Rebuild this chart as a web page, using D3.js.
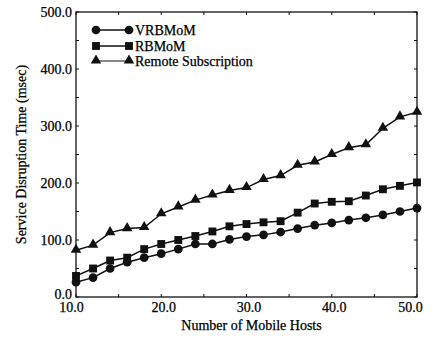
<!DOCTYPE html>
<html>
<head>
<meta charset="utf-8">
<script src="https://cdn.jsdelivr.net/npm/d3@7"></script>
<style>
  html, body { margin: 0; padding: 0; background: #fff; }
  svg { display: block; }
  svg text { font-family: "Times New Roman", "Liberation Serif", Tinos, "DejaVu Serif", serif !important; fill: #000; stroke: #000; stroke-width: 0.25px; }
</style>
</head>
<body>
<svg id="chart" width="435" height="341"></svg>
<script>
const hosts = [10, 12, 14, 16, 18, 20, 22, 24, 26, 28, 30, 32, 34, 36, 38, 40, 42, 44, 46, 48, 50];
const vrbmom = [26, 34, 50, 61, 69, 76, 84, 93, 93, 101, 106, 109, 114, 120, 126, 130, 135, 139, 144, 150, 156];
const rbmom = [37, 50, 64, 69, 84, 93, 100, 107, 115, 124, 128, 131, 133, 148, 164, 167, 168, 178, 189, 195, 201];
const remote = [82, 91, 113, 120, 122, 146, 158, 170, 179, 187, 192, 206, 213, 231, 237, 250, 262, 267, 296, 316, 324];
const seriesNames = ["VRBMoM", "RBMoM", "Remote Subscription"];
const seriesMarkers = ["circle", "square", "triangle"];
const xTicks = [10, 20, 30, 40, 50];
const yTicks = [0, 100, 200, 300, 400, 500];
const xLabel = "Number of Mobile Hosts";
const yLabel = "Service Disruption Time (msec)";

const svg = d3.select("#chart");
const m = { left: 76, right: 18, top: 12, bottom: 44 };
const W = 435, H = 341;
const x = d3.scaleLinear().domain([10, 50]).range([m.left, W - m.right]);
const y = d3.scaleLinear().domain([0, 500]).range([H - m.bottom, m.top]);

const ink = "#111";
const FONT = '"Times New Roman", "Liberation Serif", serif';

// frame
svg.append("rect")
  .attr("x", x(10)).attr("y", y(500))
  .attr("width", x(50) - x(10)).attr("height", y(0) - y(500))
  .attr("fill", "none").attr("stroke", ink).attr("stroke-width", 1.3);

// inner minor ticks on all sides
const xMinor = d3.range(10, 50.01, 5);
const yMinor = d3.range(0, 500.01, 50);
const tg = svg.append("g").attr("stroke", ink).attr("stroke-width", 1);
xMinor.forEach(v => {
  tg.append("line").attr("x1", x(v)).attr("x2", x(v)).attr("y1", y(0)).attr("y2", y(0) - 3);
  tg.append("line").attr("x1", x(v)).attr("x2", x(v)).attr("y1", y(500)).attr("y2", y(500) + 3);
});
yMinor.forEach(v => {
  tg.append("line").attr("x1", x(10)).attr("x2", x(10) + 3).attr("y1", y(v)).attr("y2", y(v));
  tg.append("line").attr("x1", x(50)).attr("x2", x(50) - 3).attr("y1", y(v)).attr("y2", y(v));
});

// axes with labels
const xAxis = svg.append("g")
  .attr("transform", `translate(0,${y(0)})`)
  .call(d3.axisBottom(x).tickValues(xTicks).tickSize(0).tickPadding(5).tickFormat(d3.format(".1f")));
xAxis.attr("font-family", FONT);
xAxis.select(".domain").remove();
xAxis.selectAll("text").attr("font-size", 14)
  .attr("dx", d => d === 10 ? -5 : (d === 50 ? -7 : 2));

const yAxis = svg.append("g")
  .attr("transform", `translate(${x(10)},0)`)
  .call(d3.axisLeft(y).tickValues(yTicks).tickSize(0).tickPadding(4).tickFormat(d3.format(".1f")));
yAxis.attr("font-family", FONT);
yAxis.select(".domain").remove();
yAxis.selectAll("text").attr("font-size", 14)
  .attr("dy", d => d === 0 ? "0.1em" : "0.32em");

// axis titles
svg.append("text")
  .attr("x", (x(10) + x(50)) / 2 + 5).attr("y", 330)
  .attr("text-anchor", "middle").attr("font-size", 14).text(xLabel);
svg.append("text")
  .attr("transform", `translate(26,${(y(0) + y(500)) / 2}) rotate(-90)`)
  .attr("text-anchor", "middle").attr("font-size", 14).text(yLabel);

// series
const data = [vrbmom, rbmom, remote];
const line = d3.line().x((d, i) => x(hosts[i])).y(d => y(d));
const symType = { circle: d3.symbolCircle, square: d3.symbolSquare, triangle: d3.symbolTriangle };
const symSize = { circle: 60, square: 62, triangle: 48 };

function marker(g, type, cx, cy) {
  g.append("path")
    .attr("d", d3.symbol().type(symType[type]).size(symSize[type])())
    .attr("transform", `translate(${cx},${cy + (type === "triangle" ? -0.5 : 0)})`)
    .attr("fill", ink);
}

data.forEach((vals, si) => {
  const g = svg.append("g");
  g.append("path").datum(vals).attr("d", line)
    .attr("fill", "none").attr("stroke", ink).attr("stroke-width", 1.5);
  vals.forEach((v, i) => marker(g, seriesMarkers[si], x(hosts[i]), y(v)));
});

// legend
const legY = [30, 46, 61];
seriesNames.forEach((name, i) => {
  const g = svg.append("g");
  g.append("line").attr("x1", 96).attr("x2", 129).attr("y1", legY[i]).attr("y2", legY[i])
    .attr("stroke", ink).attr("stroke-width", i === 2 ? 1 : 1.5);
  marker(g, seriesMarkers[i], 96, legY[i]);
  marker(g, seriesMarkers[i], 129, legY[i]);
  g.append("text").attr("x", 135).attr("y", legY[i]).attr("dy", "0.35em")
    .attr("font-size", 14).text(name);
});
</script>
</body>
</html>
